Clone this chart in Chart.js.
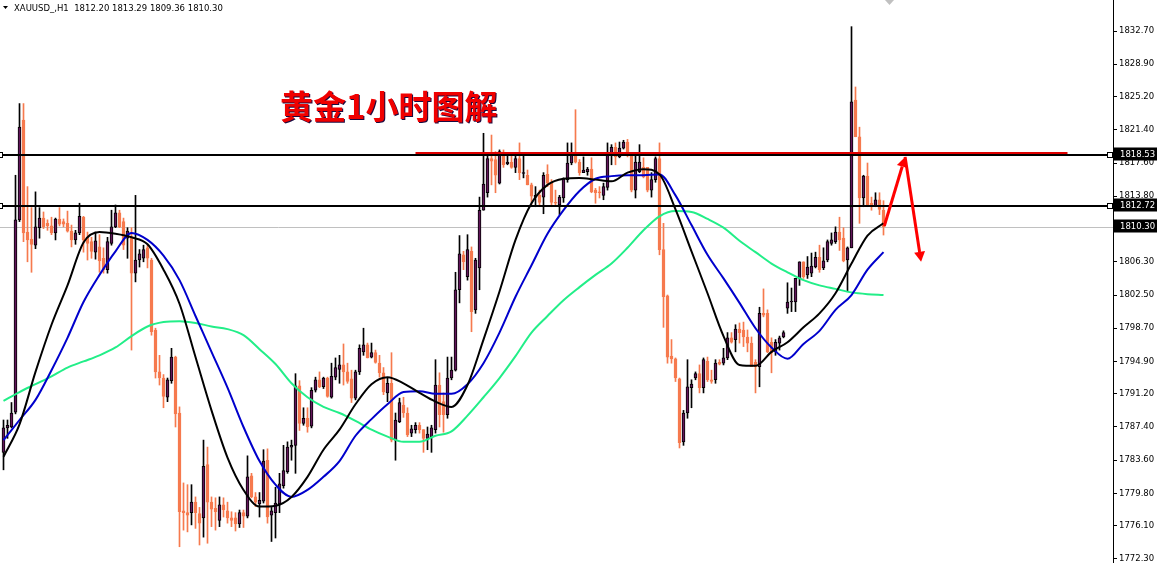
<!DOCTYPE html>
<html>
<head>
<meta charset="utf-8">
<script src="https://cdn.jsdelivr.net/npm/chart.js@4.4.1/dist/chart.umd.min.js"></script>
<style>
  html, body { margin: 0; padding: 0; background: #fff; }
  canvas { display: block; }
</style>
</head>
<body>
<canvas id="chart" width="1157" height="563" style="width:1157px;height:563px"></canvas>
<script>
// XAUUSD H1 candles, oldest first
const opens = [
  1784.5, 1787.3, 1787.4, 1789.1, 1811.1, 1822.5, 1809.7, 1808.9, 1808.2, 1810.2,
  1811.3, 1810.7, 1810.4, 1809.6, 1811.2, 1810.9, 1810.7, 1809.8, 1808.8, 1809.6,
  1811.4, 1809.1, 1808.6, 1807.4, 1808.0, 1806.7, 1805.4, 1808.4, 1810.3, 1811.9,
  1810.9, 1809.0, 1809.1, 1805.0, 1806.5, 1806.7, 1807.9, 1806.5, 1798.5, 1793.7,
  1793.0, 1790.8, 1792.7, 1795.4, 1789.0, 1777.8, 1777.6, 1777.6, 1778.8, 1777.5,
  1777.0, 1783.1, 1778.8, 1778.1, 1776.7, 1778.5, 1777.8, 1777.0, 1777.0, 1776.3,
  1777.6, 1777.2, 1781.8, 1779.4, 1778.6, 1778.9, 1783.6, 1777.3, 1777.6, 1778.6,
  1780.7, 1782.3, 1785.1, 1785.3, 1792.1, 1787.8, 1788.4, 1787.5, 1791.6, 1792.8,
  1792.0, 1793.0, 1790.8, 1793.1, 1794.0, 1794.5, 1793.7, 1792.9, 1790.7, 1793.7,
  1796.0, 1796.8, 1795.4, 1795.9, 1794.7, 1793.6, 1791.3, 1792.4, 1785.9, 1788.0,
  1789.9, 1789.0, 1786.7, 1787.1, 1787.6, 1787.1, 1786.1, 1786.3, 1787.1, 1792.2,
  1790.3, 1788.8, 1793.0, 1793.9, 1803.1, 1807.1, 1804.6, 1807.5, 1800.8, 1805.6,
  1812.2, 1814.2, 1818.1, 1818.0, 1815.3, 1818.5, 1817.5, 1817.7, 1817.1, 1818.1,
  1816.4, 1816.2, 1815.1, 1813.7, 1813.9, 1813.7, 1816.3, 1815.3, 1813.1, 1812.8,
  1813.6, 1815.7, 1817.6, 1818.7, 1817.7, 1816.5, 1816.6, 1816.9, 1814.5, 1814.3,
  1813.9, 1814.8, 1818.7, 1819.4, 1818.3, 1819.3, 1820.0, 1818.5, 1814.5, 1816.6,
  1817.1, 1817.1, 1814.5, 1815.7, 1818.1, 1807.7, 1802.4, 1795.5, 1795.2, 1792.9,
  1785.7, 1789.0, 1791.9, 1793.0, 1793.5, 1791.9, 1794.9, 1792.8, 1792.8, 1794.8,
  1794.7, 1795.3, 1797.6, 1797.4, 1798.6, 1798.5, 1797.7, 1797.0, 1794.8, 1794.3,
  1800.4, 1800.4, 1797.1, 1796.0, 1797.0, 1797.7, 1801.0, 1801.7, 1801.7, 1804.4,
  1806.3, 1804.8, 1805.0, 1805.7, 1806.8, 1805.6, 1806.5, 1808.4, 1808.6, 1809.7,
  1809.0, 1806.5, 1807.9, 1824.8, 1820.6, 1813.6, 1816.1, 1813.0, 1812.7, 1813.4,
  1812.2
];
const highs = [
  1788.2, 1788.2, 1790.2, 1816.2, 1824.4, 1824.4, 1814.9, 1812.5, 1814.3, 1812.5,
  1812.0, 1811.1, 1811.4, 1811.3, 1812.5, 1811.2, 1812.1, 1810.5, 1809.9, 1813.0,
  1811.5, 1809.7, 1809.1, 1809.7, 1809.4, 1807.9, 1809.1, 1812.2, 1812.8, 1812.2,
  1811.3, 1810.2, 1810.2, 1813.9, 1807.7, 1808.2, 1808.2, 1806.7, 1798.7, 1795.6,
  1793.4, 1793.0, 1796.4, 1795.5, 1789.7, 1781.0, 1780.8, 1780.8, 1779.4, 1778.2,
  1785.9, 1785.1, 1779.4, 1779.3, 1779.4, 1779.3, 1778.8, 1777.7, 1777.6, 1777.9,
  1777.9, 1784.1, 1782.1, 1779.9, 1779.9, 1784.8, 1784.9, 1778.2, 1780.5, 1782.1,
  1785.3, 1785.7, 1785.9, 1793.5, 1792.7, 1789.6, 1789.6, 1791.9, 1793.1, 1793.7,
  1793.1, 1793.1, 1794.7, 1795.3, 1795.6, 1796.9, 1794.7, 1793.9, 1793.9, 1796.8,
  1798.7, 1797.0, 1797.0, 1796.2, 1795.6, 1794.2, 1793.0, 1795.9, 1789.0, 1790.7,
  1790.8, 1789.6, 1787.6, 1787.9, 1787.9, 1787.1, 1787.4, 1787.6, 1795.1, 1793.6,
  1791.3, 1795.4, 1795.4, 1805.1, 1809.3, 1807.5, 1809.4, 1808.0, 1806.7, 1813.7,
  1821.0, 1818.4, 1820.8, 1818.9, 1819.1, 1819.1, 1818.7, 1818.7, 1818.4, 1819.9,
  1818.5, 1816.8, 1815.3, 1814.9, 1814.5, 1816.5, 1817.4, 1815.7, 1814.5, 1813.9,
  1815.9, 1819.9, 1819.9, 1823.7, 1818.0, 1818.3, 1817.1, 1818.2, 1814.7, 1814.9,
  1815.3, 1819.9, 1819.7, 1819.9, 1820.0, 1820.2, 1820.3, 1818.8, 1818.5, 1819.7,
  1818.2, 1817.1, 1816.5, 1818.3, 1819.9, 1810.7, 1802.5, 1797.4, 1795.3, 1793.0,
  1789.3, 1795.1, 1792.8, 1793.7, 1794.5, 1795.3, 1795.4, 1793.9, 1795.1, 1795.1,
  1796.4, 1798.2, 1798.2, 1799.1, 1799.3, 1799.4, 1798.5, 1797.7, 1795.1, 1801.1,
  1803.2, 1800.8, 1797.6, 1797.4, 1797.8, 1798.4, 1803.9, 1803.3, 1804.4, 1806.3,
  1806.3, 1806.9, 1807.3, 1807.4, 1808.2, 1807.9, 1808.8, 1809.6, 1810.3, 1811.4,
  1810.2, 1808.0, 1833.2, 1826.3, 1821.7, 1816.2, 1817.6, 1813.7, 1814.2, 1814.2,
  1813.29
];
const lows = [
  1782.5, 1786.1, 1787.3, 1788.9, 1810.9, 1808.6, 1806.3, 1805.1, 1807.8, 1809.0,
  1810.1, 1809.9, 1809.4, 1808.8, 1810.4, 1810.3, 1809.7, 1808.0, 1808.3, 1809.4,
  1807.4, 1806.5, 1806.7, 1806.6, 1805.1, 1805.0, 1805.0, 1808.2, 1810.2, 1810.2,
  1807.7, 1806.7, 1796.2, 1804.0, 1805.7, 1806.3, 1805.6, 1797.9, 1793.0, 1792.2,
  1789.6, 1790.3, 1792.4, 1787.4, 1773.7, 1775.6, 1775.4, 1776.2, 1775.8, 1773.9,
  1774.8, 1774.1, 1776.0, 1775.6, 1776.0, 1777.1, 1776.4, 1776.0, 1775.5, 1775.9,
  1775.9, 1777.0, 1779.3, 1778.3, 1777.1, 1778.7, 1776.4, 1774.3, 1774.7, 1777.6,
  1780.4, 1782.1, 1783.6, 1782.1, 1787.0, 1787.6, 1786.8, 1787.3, 1791.4, 1791.9,
  1791.8, 1790.8, 1790.7, 1792.8, 1792.4, 1792.2, 1792.4, 1790.2, 1790.5, 1793.4,
  1795.6, 1795.3, 1795.3, 1794.7, 1793.1, 1791.1, 1790.3, 1785.7, 1783.6, 1787.9,
  1788.5, 1786.3, 1786.3, 1786.7, 1786.7, 1784.5, 1784.8, 1784.5, 1786.7, 1787.4,
  1786.8, 1788.4, 1792.8, 1793.8, 1801.6, 1805.4, 1804.2, 1798.3, 1800.4, 1803.1,
  1812.2, 1813.7, 1815.1, 1814.2, 1815.2, 1817.1, 1817.4, 1817.0, 1816.5, 1815.7,
  1815.9, 1815.1, 1812.6, 1812.6, 1812.6, 1811.8, 1814.9, 1812.6, 1812.8, 1811.7,
  1813.1, 1815.4, 1817.4, 1817.6, 1816.2, 1816.5, 1816.2, 1814.2, 1813.0, 1813.6,
  1813.4, 1814.5, 1817.4, 1817.4, 1818.2, 1819.2, 1818.3, 1814.3, 1813.6, 1816.5,
  1815.9, 1814.3, 1813.7, 1815.4, 1807.1, 1798.8, 1794.7, 1794.7, 1792.6, 1785.0,
  1785.3, 1788.4, 1789.6, 1792.8, 1791.3, 1791.3, 1792.6, 1792.4, 1792.4, 1794.5,
  1794.5, 1795.1, 1797.0, 1796.0, 1797.0, 1796.6, 1796.0, 1794.3, 1791.3, 1792.0,
  1800.0, 1795.9, 1793.6, 1795.6, 1796.2, 1797.6, 1800.4, 1800.6, 1800.6, 1803.6,
  1804.4, 1804.4, 1804.6, 1805.6, 1805.1, 1805.4, 1806.3, 1808.2, 1808.4, 1807.6,
  1806.3, 1803.0, 1807.9, 1820.6, 1810.7, 1812.6, 1812.6, 1812.2, 1812.6, 1811.7,
  1809.36
];
const closes = [
  1787.3, 1787.6, 1789.0, 1811.1, 1821.7, 1809.6, 1808.8, 1808.3, 1810.3, 1811.3,
  1810.3, 1810.4, 1809.6, 1811.2, 1810.6, 1810.6, 1809.8, 1808.8, 1809.6, 1811.5,
  1808.8, 1808.4, 1807.5, 1808.7, 1806.4, 1805.4, 1808.6, 1810.3, 1811.9, 1810.3,
  1808.2, 1809.8, 1805.0, 1806.5, 1807.2, 1807.7, 1806.7, 1798.3, 1793.7, 1793.0,
  1790.9, 1792.8, 1795.4, 1788.9, 1777.7, 1777.6, 1777.3, 1778.8, 1777.6, 1776.4,
  1782.9, 1778.8, 1778.0, 1777.7, 1778.5, 1777.9, 1777.0, 1776.7, 1776.3, 1777.6,
  1777.2, 1781.7, 1779.4, 1778.8, 1779.0, 1783.5, 1777.1, 1777.8, 1778.7, 1780.9,
  1782.4, 1785.1, 1785.3, 1792.1, 1787.8, 1788.4, 1787.4, 1791.6, 1792.8, 1792.0,
  1793.0, 1790.9, 1793.2, 1794.2, 1794.5, 1793.7, 1792.6, 1790.7, 1793.7, 1796.4,
  1796.8, 1795.3, 1795.9, 1794.8, 1793.6, 1791.4, 1792.4, 1785.9, 1788.2, 1790.2,
  1789.0, 1786.5, 1787.2, 1787.6, 1787.1, 1786.1, 1786.6, 1787.3, 1792.2, 1788.8,
  1788.8, 1793.0, 1793.9, 1803.1, 1807.2, 1806.3, 1807.7, 1800.6, 1806.5, 1812.2,
  1815.2, 1818.1, 1817.8, 1816.2, 1818.9, 1817.4, 1817.7, 1817.1, 1818.1, 1816.5,
  1816.5, 1815.1, 1813.8, 1813.9, 1813.1, 1816.2, 1815.3, 1813.1, 1813.0, 1813.7,
  1815.8, 1817.6, 1818.7, 1817.7, 1816.5, 1816.8, 1816.9, 1814.3, 1814.2, 1814.2,
  1814.9, 1818.7, 1819.4, 1818.3, 1819.3, 1820.0, 1818.5, 1814.5, 1817.7, 1817.7,
  1816.0, 1814.5, 1815.7, 1818.1, 1807.7, 1802.3, 1795.4, 1795.2, 1793.0, 1785.6,
  1789.0, 1792.0, 1792.3, 1793.5, 1791.9, 1795.1, 1792.8, 1792.6, 1794.7, 1794.6,
  1795.3, 1797.6, 1797.1, 1798.6, 1798.2, 1797.7, 1797.0, 1794.3, 1794.3, 1800.4,
  1800.2, 1796.0, 1795.9, 1797.1, 1797.6, 1798.2, 1801.7, 1801.8, 1804.4, 1806.3,
  1804.6, 1805.7, 1805.8, 1806.8, 1805.4, 1806.4, 1808.6, 1808.8, 1809.7, 1808.8,
  1806.4, 1807.9, 1824.6, 1820.6, 1813.6, 1816.1, 1812.8, 1812.8, 1813.4, 1812.3,
  1810.3
];

// moving averages, read every 4th bar
const maStep = 4;
const maBlack = [
  1784.0, 1787.7, 1793.7, 1799.1, 1803.6, 1808.5, 1809.7, 1809.5, 1809.1, 1808.3,
  1805.4, 1801.5, 1795.4, 1789.3, 1783.9, 1780.2, 1778.3, 1778.4, 1779.4, 1781.7,
  1784.8, 1787.1, 1790.0, 1792.3, 1793.1, 1792.4, 1791.3, 1790.3, 1789.7, 1792.2,
  1797.4, 1802.9, 1808.8, 1813.0, 1815.1, 1815.8, 1815.9, 1815.7, 1815.5, 1816.5,
  1816.9, 1816.3, 1812.3, 1807.5, 1802.7, 1797.8, 1794.5, 1794.4, 1796.0, 1797.1,
  1798.8, 1800.4, 1802.7, 1806.1, 1809.3, 1810.7
];
const maBlue = [
  1785.9, 1788.2, 1790.5, 1793.9, 1797.6, 1801.7, 1804.8, 1807.5, 1809.6, 1808.8,
  1807.0, 1804.2, 1800.1, 1796.0, 1791.9, 1787.4, 1783.5, 1780.8, 1779.4, 1780.2,
  1781.7, 1783.5, 1786.4, 1788.3, 1790.0, 1791.4, 1791.5, 1791.2, 1791.2, 1792.3,
  1794.7, 1798.2, 1802.3, 1805.9, 1809.5, 1812.2, 1814.4, 1815.8, 1816.1, 1816.2,
  1816.2, 1816.3, 1813.9, 1810.5, 1807.1, 1804.4, 1801.6, 1798.7, 1796.5, 1795.2,
  1796.9, 1798.4, 1800.8, 1802.5, 1805.4, 1807.4
];
const maGreen = [
  1790.4, 1791.4, 1792.3, 1793.2, 1794.2, 1794.9, 1795.6, 1796.5, 1797.8, 1798.9,
  1799.4, 1799.5, 1799.3, 1798.9, 1798.6, 1797.9, 1796.3, 1794.6, 1792.4, 1790.8,
  1789.7, 1789.0, 1788.1, 1787.1, 1786.3, 1785.7, 1785.7, 1786.4, 1786.9, 1788.7,
  1790.8, 1793.0, 1795.5, 1798.2, 1800.1, 1801.9, 1803.4, 1804.8, 1806.1, 1807.9,
  1809.9, 1811.5, 1812.1, 1812.0, 1811.2, 1810.2, 1808.7, 1807.4, 1806.1, 1805.1,
  1804.2, 1803.6, 1803.2, 1802.8, 1802.6, 1802.5
];

const tickValues = [
  1832.70, 1828.90, 1825.20, 1821.40, 1817.60, 1813.80, 1806.30, 1802.50,
  1798.70, 1794.90, 1791.20, 1787.40, 1783.60, 1779.80, 1776.10, 1772.30
];
const levels = [1818.53, 1812.72];
const bidPrice = 1810.30;
const resistance = { from: 103, to: 266, price: 1818.53 };
const arrowBars = [220.2, 225.4, 229.4];
const arrowPrices = [1810.4, 1818.3, 1806.3];
const headerText = 'XAUUSD_,H1  1812.20 1813.29 1809.36 1810.30';
const titleText = '黄金1小时图解';

const BULL_FILL = '#62155a';
const BEAR = '#f67a4e';
const AXIS_FONT = '8.5px "DejaVu Sans", sans-serif';

const wickData = opens.map((o, i) => ({ x: i, y: [lows[i], highs[i]] }));
const bodyData = opens.map((o, i) => ({ x: i, y: [o, closes[i]] }));
const isBull = opens.map((o, i) => closes[i] >= o);

const overlays = {
    id: 'overlays',
    beforeDatasetsDraw(chart) {
        const { ctx, chartArea, scales: { y } } = chart;
        const py = Math.round(y.getPixelForValue(bidPrice)) + 0.5;
        ctx.save();
        ctx.strokeStyle = '#c0c0c0';
        ctx.lineWidth = 1;
        ctx.beginPath();
        ctx.moveTo(chartArea.left, py);
        ctx.lineTo(chartArea.right, py);
        ctx.stroke();
        ctx.restore();
    },
    afterDatasetsDraw(chart) {
        const { ctx, chartArea, scales: { x, y } } = chart;
        ctx.save();

        // red resistance line, just above the black level
        const ry = Math.round(y.getPixelForValue(resistance.price)) - 2;
        ctx.strokeStyle = '#e00000';
        ctx.lineWidth = 2;
        ctx.beginPath();
        ctx.moveTo(x.getPixelForValue(resistance.from), ry);
        ctx.lineTo(x.getPixelForValue(resistance.to), ry);
        ctx.stroke();

        // black horizontal levels with end squares
        levels.forEach(v => {
            const ly = Math.round(y.getPixelForValue(v));
            ctx.strokeStyle = '#000';
            ctx.lineWidth = 2;
            ctx.beginPath();
            ctx.moveTo(chartArea.left, ly);
            ctx.lineTo(chartArea.right, ly);
            ctx.stroke();
            ctx.lineWidth = 1;
            ctx.fillStyle = '#fff';
            [chartArea.left - 2.5, chartArea.right - 5.5].forEach(sx => {
                ctx.fillRect(sx, ly - 2.5, 5, 5);
                ctx.strokeRect(sx, ly - 2.5, 5, 5);
            });
        });

        // red forecast arrows
        const pts = arrowBars.map((b, k) => [x.getPixelForValue(b), y.getPixelForValue(arrowPrices[k])]);
        ctx.strokeStyle = '#ff0000';
        ctx.fillStyle = '#ff0000';
        ctx.lineWidth = 3;
        for (let k = 0; k < pts.length - 1; k++) {
            const [x0, y0] = pts[k];
            const [x1, y1] = pts[k + 1];
            const ang = Math.atan2(y1 - y0, x1 - x0);
            const hx = x1 - Math.cos(ang) * 10, hy = y1 - Math.sin(ang) * 10;
            ctx.beginPath();
            ctx.moveTo(x0, y0);
            ctx.lineTo(hx, hy);
            ctx.stroke();
            ctx.beginPath();
            ctx.moveTo(x1, y1);
            ctx.lineTo(hx + Math.sin(ang) * 5.5, hy - Math.cos(ang) * 5.5);
            ctx.lineTo(hx - Math.sin(ang) * 5.5, hy + Math.cos(ang) * 5.5);
            ctx.closePath();
            ctx.fill();
        }
        ctx.restore();
    },
    afterDraw(chart) {
        const { ctx, scales: { x, y } } = chart;
        ctx.save();

        // price tags on the axis
        ctx.font = AXIS_FONT;
        ctx.textBaseline = 'middle';
        [levels[0], levels[1], bidPrice].forEach(v => {
            const ty = Math.round(y.getPixelForValue(v)) - 1;
            ctx.fillStyle = '#000';
            ctx.fillRect(y.left + 1, ty - 6.5, chart.width - y.left - 1, 13);
            ctx.fillStyle = '#fff';
            ctx.fillText(v.toFixed(2), y.left + 7, ty + 0.5);
        });

        // chart shift marker
        const mx = x.getPixelForValue(221.5);
        ctx.fillStyle = '#c0c0c0';
        ctx.beginPath();
        ctx.moveTo(mx - 4.5, 0);
        ctx.lineTo(mx + 4.5, 0);
        ctx.lineTo(mx, 5);
        ctx.closePath();
        ctx.fill();

        // header
        ctx.fillStyle = '#000';
        ctx.beginPath();
        ctx.moveTo(3, 6);
        ctx.lineTo(8, 6);
        ctx.lineTo(5.5, 9);
        ctx.closePath();
        ctx.fill();
        ctx.textBaseline = 'alphabetic';
        ctx.fillText(headerText, 14, 11);

        // title
        ctx.font = 'bold 33px "Noto Sans CJK SC", sans-serif';
        ctx.textBaseline = 'middle';
        ctx.shadowColor = '#1a0a40';
        ctx.shadowOffsetX = 1;
        ctx.shadowOffsetY = 1;
        ctx.fillStyle = '#f00000';
        ctx.fillText(titleText, 280, 106);
        ctx.restore();
    }
};

const ctx = document.getElementById('chart').getContext('2d');
new Chart(ctx, {
    type: 'bar',
    data: {
        datasets: [
            {
                type: 'line',
                label: 'MA fast',
                data: maBlack.map((v, k) => ({ x: k * maStep, y: v })),
                borderColor: '#000000',
                borderWidth: 2,
                pointRadius: 0,
                cubicInterpolationMode: 'monotone',
                order: 0
            },
            {
                type: 'line',
                label: 'MA mid',
                data: maBlue.map((v, k) => ({ x: k * maStep, y: v })),
                borderColor: '#0000cc',
                borderWidth: 2,
                pointRadius: 0,
                cubicInterpolationMode: 'monotone',
                order: 0
            },
            {
                type: 'line',
                label: 'MA slow',
                data: maGreen.map((v, k) => ({ x: k * maStep, y: v })),
                borderColor: '#22ee88',
                borderWidth: 2,
                pointRadius: 0,
                cubicInterpolationMode: 'monotone',
                order: 0
            },
            {
                label: 'wick',
                data: wickData,
                backgroundColor: isBull.map(b => b ? '#000000' : BEAR),
                borderWidth: 0,
                barThickness: 1,
                grouped: false,
                order: 2
            },
            {
                label: 'body',
                data: bodyData,
                backgroundColor: isBull.map(b => b ? BULL_FILL : BEAR),
                borderColor: isBull.map(b => b ? '#000000' : BEAR),
                borderWidth: 1,
                borderSkipped: false,
                barThickness: 3,
                minBarLength: 1,
                grouped: false,
                order: 1
            }
        ]
    },
    options: {
        responsive: false,
        animation: false,
        events: [],
        layout: { padding: 0 },
        plugins: {
            legend: { display: false },
            tooltip: { enabled: false }
        },
        scales: {
            x: {
                type: 'linear',
                display: false,
                offset: false,
                min: -0.875,
                max: 277.375
            },
            y: {
                position: 'right',
                min: 1771.84,
                max: 1836.25,
                afterBuildTicks: scale => {
                    scale.ticks = tickValues.map(v => ({ value: v }));
                },
                afterFit: scale => {
                    scale.width = 44;
                    scale.paddingTop = 0;
                    scale.paddingBottom = 0;
                },
                grid: {
                    drawOnChartArea: false,
                    drawTicks: true,
                    tickLength: 4,
                    color: '#000'
                },
                border: { display: true, color: '#000', width: 1 },
                ticks: {
                    autoSkip: false,
                    padding: 2,
                    color: '#000',
                    font: { family: '"DejaVu Sans", sans-serif', size: 8.5 },
                    callback: v => v.toFixed(2)
                }
            }
        }
    },
    plugins: [overlays]
});
</script>
</body>
</html>
